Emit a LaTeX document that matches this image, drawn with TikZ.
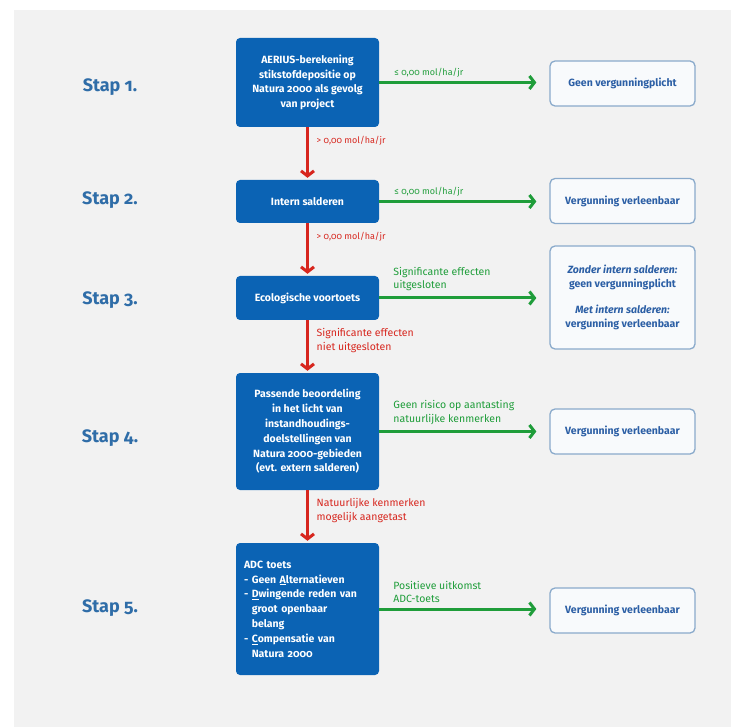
\documentclass[tikz,border=0pt]{standalone}
\usepackage{fontspec}
\setmainfont{Fira Sans}[Numbers=OldStyle]
\usetikzlibrary{positioning,arrows.meta}
\definecolor{panelgray}{HTML}{F2F2F2}
\definecolor{boxblue}{HTML}{0B63B4}
\definecolor{stapblue}{HTML}{2F6DA8}
\definecolor{gogreen}{HTML}{1F9D3A}
\definecolor{stopred}{HTML}{D7261E}
\definecolor{outline}{HTML}{8AAACB}
\definecolor{outfill}{HTML}{F8FAFC}
\definecolor{outtext}{HTML}{2C5FA5}
\begin{document}
\begin{tikzpicture}
[x=1pt,y=-1pt,
stap/.style={font=\fontsize{18}{20}\selectfont\bfseries,text=stapblue},
stepbox/.style={rectangle,rounded corners=4pt,fill=boxblue,text=white,minimum width=143pt,align=center,font=\fontsize{10.5}{14.8}\selectfont\bfseries},
outcome/.style={rectangle,rounded corners=5pt,draw=outline,line width=1.3pt,fill=outfill,text=outtext,minimum width=145pt,minimum height=45pt,align=center,font=\fontsize{10.5}{13}\selectfont\bfseries},
yes/.style={draw=gogreen,line width=3pt,-{Straight Barb[length=5pt,width=13pt]},shorten >=13pt},
no/.style={draw=stopred,line width=3pt,-{Straight Barb[length=5pt,width=13pt]},shorten >=2pt},
yeslabel/.style={text=gogreen,align=left,inner sep=0pt,font=\fontsize{10.5}{13.5}\selectfont},
nolabel/.style={text=stopred,align=left,inner sep=0pt,font=\fontsize{10.5}{13.5}\selectfont},
mol/.style={font=\fontsize{9}{11}\selectfont}]
\useasboundingbox (0,0) rectangle (731,727);
\fill[panelgray] (14,10) rectangle (731,727);
% steps on the left
\node[stap] (s1) at (110,87) {Stap 1.};
\node[stap] (s2) at (110,200) {Stap 2.};
\node[stap] (s3) at (110,300) {Stap 3.};
\node[stap] (s4) at (110,438) {Stap 4.};
\node[stap] (s5) at (110,608) {Stap 5.};
% blue boxes
\node[stepbox,minimum height=89pt] (b1) at (307.5,82.5) {AERIUS-berekening\\stikstofdepositie op\\Natura 2000 als gevolg\\van project};
\node[stepbox,minimum height=43pt] (b2) at (307.5,201.5) {Intern salderen};
\node[stepbox,minimum height=44pt] (b3) at (307.5,298) {Ecologische voortoets};
\node[stepbox,minimum height=117pt] (b4) at (307.5,431.5) {Passende beoordeling\\in het licht van\\instandhoudings-\\doelstellingen van\\Natura 2000-gebieden\\(evt. extern salderen)};
\node[stepbox,minimum height=132pt,align=left,text width=127pt] (b5) at (307.5,609) {ADC toets\\
- Geen \underline{A}lternatieven\\
- \underline{D}wingende reden van\\
\phantom{- }groot openbaar\\
\phantom{- }belang\\
- \underline{C}ompensatie van\\
\phantom{- }Natura 2000};
% outcomes
\node[outcome] (r1) at (622.5,83.5) {Geen vergunningplicht};
\node[outcome] (r2) at (622.5,201) {Vergunning verleenbaar};
\node[outcome,minimum height=103pt,font=\fontsize{10.5}{13.5}\selectfont\bfseries] (r3) at (622.5,297.5) {\textit{Zonder intern salderen:}\\geen vergunningplicht\\[13pt]\textit{Met intern salderen:}\\vergunning verleenbaar};
\node[outcome] (r4) at (622.5,431.5) {Vergunning verleenbaar};
\node[outcome] (r5) at (622.5,610.5) {Vergunning verleenbaar};
% green arrows
\draw[yes] (b1.east) -- (b1.east -| r1.west);
\draw[yes] (b2.east) -- (b2.east -| r2.west);
\draw[yes] (b3.east) -- (b3.east -| r3.west);
\draw[yes] (b4.east) -- (b4.east -| r4.west);
\draw[yes] (b5.east) -- (b5.east -| r5.west);
\node[yeslabel,mol,above right=5pt and 15pt of b1.east] (g1) {≤ 0,00 mol/ha/jr};
\node[yeslabel,mol,above right=5pt and 15pt of b2.east] (g2) {≤ 0,00 mol/ha/jr};
\node[yeslabel,above right=7pt and 14pt of b3.east] (g3) {Significante effecten\\uitgesloten};
\node[yeslabel,above right=7pt and 14pt of b4.east] (g4) {Geen risico op aantasting\\natuurlijke kenmerken};
\node[yeslabel,above right=6pt and 14pt of b5.east] (g5) {Positieve uitkomst\\ADC-toets};
% red arrows
\draw[no] (b1) -- (b2);
\draw[no] (b2) -- (b3);
\draw[no] (b3) -- (b4);
\draw[no] (b4) -- (b5);
\node[nolabel,mol,below right=9pt and 9pt of b1.south] (n1) {> 0,00 mol/ha/jr};
\node[nolabel,mol,below right=9pt and 9pt of b2.south] (n2) {> 0,00 mol/ha/jr};
\node[nolabel,below right=8pt and 9pt of b3.south] (n3) {Significante effecten\\niet uitgesloten};
\node[nolabel,below right=8pt and 9pt of b4.south] (n4) {Natuurlijke kenmerken\\mogelijk aangetast};
\end{tikzpicture}
\end{document}
